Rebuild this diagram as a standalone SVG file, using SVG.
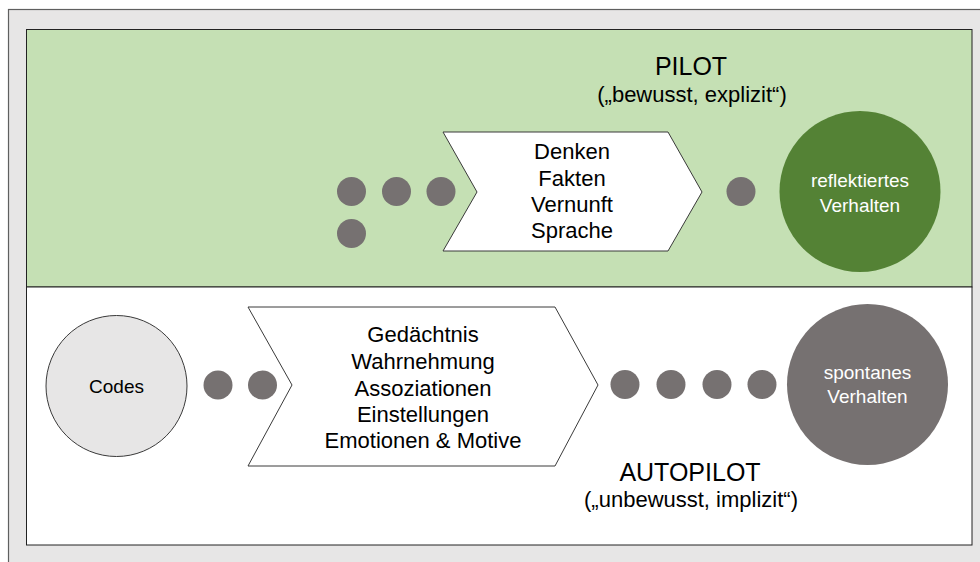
<svg xmlns="http://www.w3.org/2000/svg" width="980" height="562" viewBox="0 0 980 562">
<style>
text{font-family:"Liberation Sans",Arial,sans-serif;fill:#000;text-anchor:middle}
.t22{font-size:22px}
.t25{font-size:25px}
.w{fill:#fff;font-size:19px}
.dot{fill:#767171}
.chev{fill:#fff;stroke:#3a3a3a;stroke-width:1}
</style>
<rect x="8.5" y="9.5" width="1000" height="600" fill="#e7e6e6" stroke="#5f5f5f" stroke-width="1.2"/>
<g id="pilot-panel">
<rect x="26.5" y="29.5" width="945.5" height="257.5" fill="#c5e0b4" stroke="#222" stroke-width="1"/>
<text class="t25" x="691" y="75">PILOT</text>
<text class="t22" x="692" y="102">(„bewusst, explizit“)</text>
</g>
<g id="autopilot-panel">
<rect x="26.5" y="287" width="945.5" height="258" fill="#fff" stroke="#222" stroke-width="1"/>
<text class="t25" x="690" y="481">AUTOPILOT</text>
<text class="t22" x="691" y="507">(„unbewusst, implizit“)</text>
</g>
<g id="connectors">
<circle class="dot" cx="351.5" cy="191.5" r="14.5"/>
<circle class="dot" cx="351.5" cy="233.5" r="14.5"/>
<circle class="dot" cx="396.5" cy="191.5" r="14.5"/>
<circle class="dot" cx="441" cy="191.5" r="14.5"/>
<circle class="dot" cx="741" cy="191.5" r="14.5"/>
<circle class="dot" cx="218" cy="385" r="14.5"/>
<circle class="dot" cx="262.5" cy="385" r="14.5"/>
<circle class="dot" cx="625" cy="384.5" r="14.5"/>
<circle class="dot" cx="671" cy="384.5" r="14.5"/>
<circle class="dot" cx="717" cy="384.5" r="14.5"/>
<circle class="dot" cx="762" cy="384.5" r="14.5"/>
</g>
<g id="denken">
<polygon class="chev" points="443,132 668,132 702,192 668,251 443,251 477,192"/>
<text class="t22" x="572" y="159">Denken</text>
<text class="t22" x="572" y="186">Fakten</text>
<text class="t22" x="572" y="212">Vernunft</text>
<text class="t22" x="572" y="238">Sprache</text>
</g>
<g id="gedaechtnis">
<polygon class="chev" points="248,307 555,307 598,385 555,466 248,466 292,385"/>
<text class="t22" x="423" y="342">Gedächtnis</text>
<text class="t22" x="423" y="369">Wahrnehmung</text>
<text class="t22" x="423" y="396">Assoziationen</text>
<text class="t22" x="423" y="422">Einstellungen</text>
<text class="t22" x="423" y="448">Emotionen &amp; Motive</text>
</g>
<g id="codes">
<circle cx="116.5" cy="386" r="70.5" fill="#e7e6e6" stroke="#3a3a3a" stroke-width="1"/>
<text x="116.5" y="393" style="font-size:19px">Codes</text>
</g>
<g id="reflektiertes">
<circle cx="860" cy="191.5" r="80.5" fill="#548235"/>
<text class="w" x="860" y="187">reflektiertes</text>
<text class="w" x="860" y="212">Verhalten</text>
</g>
<g id="spontanes">
<circle cx="867.5" cy="384.5" r="80.5" fill="#767171"/>
<text class="w" x="867.5" y="379">spontanes</text>
<text class="w" x="867.5" y="403">Verhalten</text>
</g>
</svg>
